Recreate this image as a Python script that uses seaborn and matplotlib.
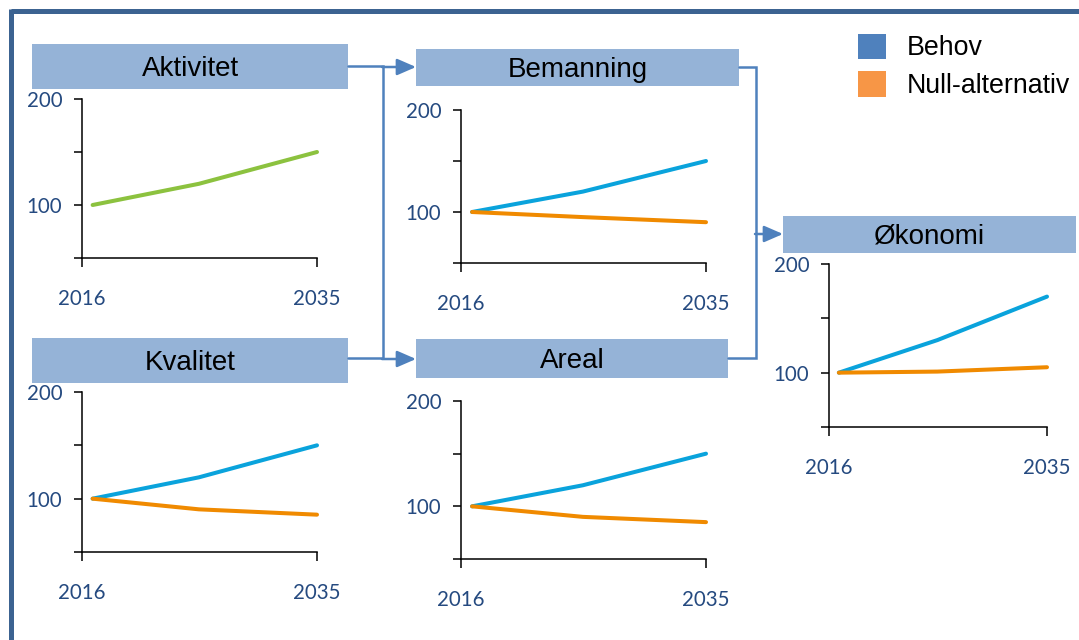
import matplotlib.pyplot as plt
import matplotlib.patches as mpatches
import seaborn as sns

# Data (index, 2016 = 100)
years = [2016, 2025, 2035]
aktivitet = [100, 120, 150]
bemanning_behov = [100, 120, 150]
bemanning_null = [100, 95, 90]
kvalitet_behov = [100, 120, 150]
kvalitet_null = [100, 90, 85]
areal_behov = [100, 120, 150]
areal_null = [100, 90, 85]
okonomi_behov = [100, 130, 170]
okonomi_null = [100, 101, 105]

legend_labels = ['Behov', 'Null-alternativ']
x_ticklabels = ['2016', '2035']

sns.set_theme(style='white')
plt.rcParams['font.family'] = ['Liberation Sans', 'DejaVu Sans']

W, H = 1079, 640
BOX = '#95B3D7'
CONN = '#4F81BD'
FRAME = '#3C6391'
TICKC = '#254A80'
BLUE = '#0AA3DC'
ORANGE = '#F08A00'
GREEN = '#8CC23F'

fig = plt.figure(figsize=(W / 100, H / 100), dpi=100)
fig.patch.set_facecolor('white')
fig.patch.set_edgecolor('white')
fig.patch.set_linewidth(0)

# background axes in pixel coordinates for boxes, arrows and frame
bg = fig.add_axes([0, 0, 1, 1])
bg.set_xlim(0, W)
bg.set_ylim(H, 0)
bg.axis('off')

# outer frame: top edge and left edge only
bg.plot([W, 10.5], [10.5, 10.5], color=FRAME, lw=3.6, solid_capstyle='butt')
bg.plot([10.5, 10.5], [9, H], color=FRAME, lw=3.6, solid_capstyle='butt')

# title boxes: (text, left, top, right, bottom)
boxes = [('Aktivitet', 32, 44, 348, 89),
         ('Bemanning', 416, 49, 739, 86),
         ('Økonomi', 783, 216, 1076, 253),
         ('Kvalitet', 32, 338, 348, 383),
         ('Areal', 416, 339, 728, 378)]
for txt, l, t, r, b in boxes:
    bg.add_patch(mpatches.Rectangle((l, t), r - l, b - t, color=BOX, lw=0))
    bg.text((l + r) / 2, (t + b) / 2 + 2.5, txt, ha='center', va='center', fontsize=20, color='black')

# connectors
lw_c = 1.8
bg.plot([348, 383, 383, 348], [66, 66, 358, 358], color=CONN, lw=lw_c, solid_joinstyle='miter')
bg.plot([739, 756, 756, 728], [67, 67, 358, 358], color=CONN, lw=lw_c, solid_joinstyle='miter')
arrow_kw = dict(arrowstyle='-|>,head_length=1.15,head_width=0.5', color=CONN, lw=lw_c,
                mutation_scale=10, shrinkA=0, shrinkB=0)
bg.annotate('', xy=(416, 67), xytext=(382, 67), arrowprops=arrow_kw)
bg.annotate('', xy=(416, 359), xytext=(382, 359), arrowprops=arrow_kw)
bg.annotate('', xy=(783, 234), xytext=(755, 234), arrowprops=arrow_kw)

# legend
bg.add_patch(mpatches.Rectangle((858, 34), 28, 25, color='#4F81BD', lw=0))
bg.add_patch(mpatches.Rectangle((858, 71), 28, 26, color='#F79646', lw=0))
bg.text(907, 48, legend_labels[0], ha='left', va='center', fontsize=19.3, color='black')
bg.text(907, 86, legend_labels[1], ha='left', va='center', fontsize=19.3, color='black')


def small_chart(left, top, right, bottom, series):
    ax = fig.add_axes([left / W, 1 - bottom / H, (right - left) / W, (bottom - top) / H])
    ax.set_facecolor('none')
    for vals, col in series:
        sns.lineplot(x=years, y=vals, ax=ax, color=col, lw=2.9, clip_on=False)
    ax.set_xlim(2015.1, 2035)
    ax.set_ylim(50, 200)
    for s in ['top', 'right']:
        ax.spines[s].set_visible(False)
    for s in ['left', 'bottom']:
        ax.spines[s].set_color('black')
        ax.spines[s].set_linewidth(1.1)
    ax.set_xticks([2015.1, 2035])
    ax.set_xticklabels(x_ticklabels)
    ax.set_yticks([50, 100, 150, 200])
    ax.set_yticklabels(['', '100', '', '200'])
    ax.tick_params(axis='x', direction='out', length=6.5, width=1.1, color='black', pad=16,
                   labelsize=14.8, labelcolor=TICKC, bottom=True)
    ax.tick_params(axis='y', direction='out', length=5.8, width=1.1, color='black', pad=8.5,
                   labelsize=14.8, labelcolor=TICKC, left=True)
    for lab in ax.get_xticklabels() + ax.get_yticklabels():
        lab.set_fontfamily(['Lato', 'DejaVu Sans'])
    ax.set_xlabel('')
    ax.set_ylabel('')
    ax.grid(False)
    return ax


small_chart(82, 99, 317, 258, [(aktivitet, GREEN)])
small_chart(461, 110, 706, 263, [(bemanning_behov, BLUE), (bemanning_null, ORANGE)])
small_chart(829, 264, 1047, 427, [(okonomi_behov, BLUE), (okonomi_null, ORANGE)])
small_chart(82, 392, 317, 552, [(kvalitet_behov, BLUE), (kvalitet_null, ORANGE)])
small_chart(461, 401, 706, 559, [(areal_behov, BLUE), (areal_null, ORANGE)])

fig.savefig('out.png', dpi=100)
